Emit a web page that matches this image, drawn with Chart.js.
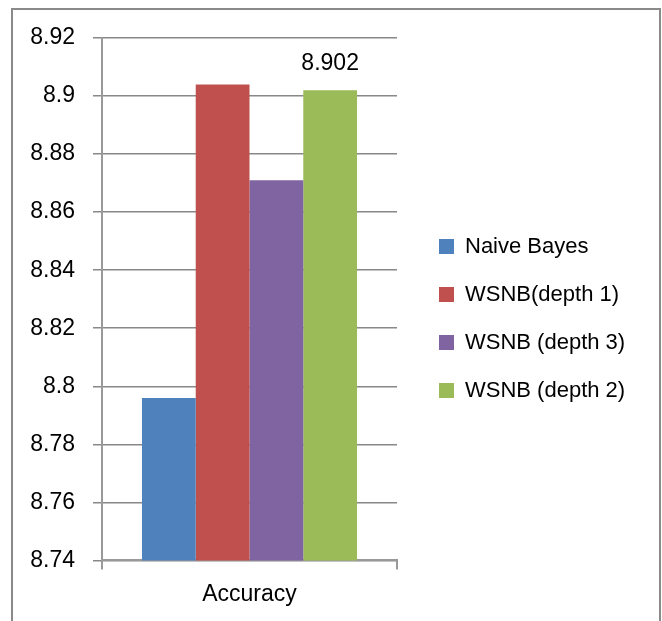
<!DOCTYPE html>
<html><head><meta charset="utf-8">
<script src="https://cdn.jsdelivr.net/npm/chart.js@4"></script>
<style>html,body{margin:0;padding:0;background:#fff}canvas{display:block}</style>
</head><body>
<canvas id="c" width="662" height="621"></canvas>
<script>
// ---- data ----
const categories = ['Accuracy'];
const seriesNames = ['Naive Bayes', 'WSNB(depth 1)', 'WSNB (depth 3)', 'WSNB (depth 2)'];
const naiveBayes = [8.796];
const wsnbDepth1 = [8.904];
const wsnbDepth3 = [8.871];
const wsnbDepth2 = [8.902];
const yTickValues = [8.74, 8.76, 8.78, 8.8, 8.82, 8.84, 8.86, 8.88, 8.9, 8.92];
const yTickLabels = ['8.74', '8.76', '8.78', '8.8', '8.82', '8.84', '8.86', '8.88', '8.9', '8.92'];
const labelledSeries = 3;          // series that shows its value
const valueLabels = ['8.902'];

// ---- chart ----
const seriesValues = [naiveBayes, wsnbDepth1, wsnbDepth3, wsnbDepth2];
const palette = ['#4F81BD', '#C0504D', '#8064A2', '#9BBB59'];
const FONT = '"Liberation Sans", Arial, sans-serif';

const frame = {
  id: 'frame',
  beforeDraw(chart) {
    const ctx = chart.ctx;
    ctx.save();
    ctx.strokeStyle = '#8a8a8a';
    ctx.lineWidth = 2;
    ctx.strokeRect(12, 9, 648, 700);
    ctx.restore();
  }
};

const legendPlace = {
  id: 'legendPlace',
  beforeLayout(chart) {
    const lg = chart.legend;
    if (lg && !lg._patched) {
      const f = lg.fit;
      lg.fit = function () { f.call(this); this.width = 265; };
      lg._patched = true;
    }
  },
  afterLayout(chart) {
    const lg = chart.legend;
    lg.left += 16; lg.right += 16;
    lg.top -= 10; lg.bottom -= 10;
  }
};

const valueLabel = {
  id: 'valueLabel',
  afterDatasetsDraw(chart) {
    const meta = chart.getDatasetMeta(labelledSeries);
    const ctx = chart.ctx;
    ctx.save();
    ctx.font = '23px ' + FONT;
    ctx.fillStyle = '#000';
    ctx.textAlign = 'center';
    ctx.textBaseline = 'middle';
    meta.data.forEach((bar, i) => ctx.fillText(valueLabels[i], bar.x, bar.y - 27));
    ctx.restore();
  }
};

new Chart(document.getElementById('c'), {
  type: 'bar',
  data: {
    labels: categories,
    datasets: seriesNames.map((name, i) => ({
      label: name,
      data: seriesValues[i],
      backgroundColor: palette[i],
      borderWidth: 0,
      categoryPercentage: 0.729,
      barPercentage: 1
    }))
  },
  options: {
    responsive: false,
    animation: false,
    layout: { padding: { top: 38, left: 0, right: 0, bottom: 2 } },
    plugins: {
      legend: {
        position: 'right',
        align: 'center',
        labels: {
          boxWidth: 15, boxHeight: 15, padding: 26,
          color: '#000',
          font: { family: FONT, size: 22 }
        }
      },
      tooltip: { enabled: false }
    },
    scales: {
      x: {
        ticks: { color: '#000', padding: 11, font: { family: FONT, size: 23 } },
        grid: { drawOnChartArea: false, drawTicks: true, tickLength: 9, color: '#999', lineWidth: 2 },
        border: { color: '#999', width: 2 }
      },
      y: {
        min: 8.74, max: 8.92,
        afterBuildTicks: s => { s.ticks = yTickValues.map(v => ({ value: v })); },
        afterFit: s => { s.width = 102; },
        ticks: {
          color: '#000', padding: 18,
          font: { family: FONT, size: 23 },
          callback: v => yTickLabels[yTickValues.indexOf(v)]
        },
        grid: { color: '#888', lineWidth: 1.5, tickLength: 9, drawTicks: true },
        border: { color: '#999', width: 2 }
      }
    }
  },
  plugins: [frame, legendPlace, valueLabel]
});
</script>
</body></html>
